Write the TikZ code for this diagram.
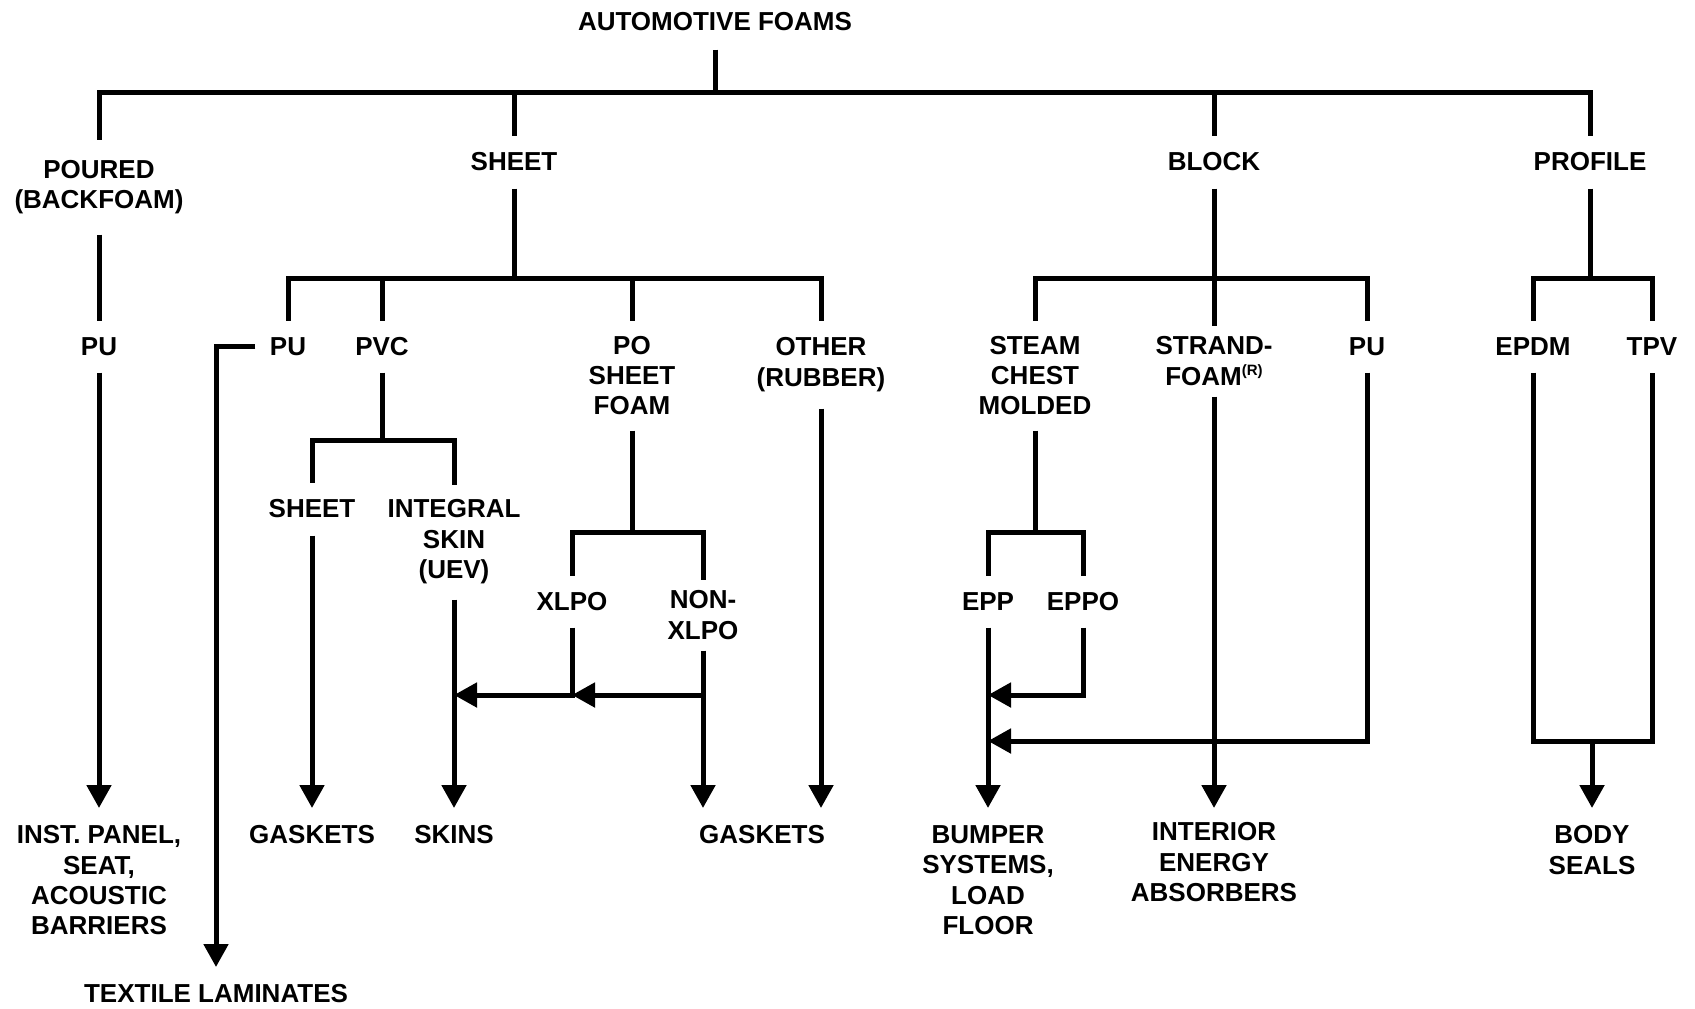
\documentclass[tikz,border=0pt]{standalone}
\usepackage{fontspec}
\setmainfont{Liberation Sans}
\usetikzlibrary{arrows.meta}
\begin{document}
\begin{tikzpicture}[x=0.5pt,y=-0.5pt,
  line width=2.5pt,
  every node/.style={font=\fontsize{13pt}{15.2pt}\selectfont\bfseries, align=center, inner ysep=0pt, inner xsep=6pt},
  lab/.style={minimum height=#1},
  bot/.style={anchor=north, inner ysep=7.5pt},
  arr/.style={-{Triangle[length=11.5pt,width=12pt]}}]
\useasboundingbox (0,0) rectangle (1695,1008);

% level coordinates
\coordinate (b0) at (0,92);
\coordinate (b1) at (0,278);
\coordinate (b2) at (0,440);
\coordinate (b3) at (0,532);
\coordinate (h1) at (0,695);
\coordinate (h2) at (0,741);

% nodes
\node (root) at (715,22) [lab=25pt] {AUTOMOTIVE FOAMS};
\node (poured) at (99,187) [lab=45pt] {POURED\\(BACKFOAM)};
\node (sheet) at (514,162) [lab=24pt] {SHEET};
\node (block) at (1214,162) [lab=24pt] {BLOCK};
\node (profile) at (1590,162) [lab=24pt] {PROFILE};

\node (pu1) at (99,346.5) [lab=23.5pt] {PU};
\node (pu2) at (288,346.5) [lab=23.5pt] {PU};
\node (pvc) at (382,346.5) [lab=23.5pt] {PVC};
\node (po) at (632,375.5) [lab=52.5pt] {PO\\SHEET\\FOAM};
\node (other) at (821,364.5) [lab=41.5pt] {OTHER\\(RUBBER)};
\node (steam) at (1035,375.5) [lab=52.5pt] {STEAM\\CHEST\\MOLDED};
\node (strand) at (1214,361) [lab=33pt] {STRAND-\\FOAM\raisebox{5pt}{\fontsize{7.5pt}{8pt}\selectfont(R)}};
\node (pu3) at (1367,346.5) [lab=23.5pt] {PU};
\node (epdm) at (1533,346.5) [lab=23.5pt] {EPDM};
\node (tpv) at (1652,346.5) [lab=23.5pt] {TPV};

\node (sheet2) at (312,509) [lab=24pt] {SHEET};
\node (integral) at (454,542) [lab=55pt] {INTEGRAL\\SKIN\\(UEV)};
\node (xlpo) at (572,601.5) [lab=23.5pt] {XLPO};
\node (nonxlpo) at (703,615) [lab=33pt] {NON-\\XLPO};
\node (epp) at (988,601.5) [lab=23.5pt] {EPP};
\node (eppo) at (1083,601.5) [lab=23.5pt] {EPPO};

\node (inst) at (99,808) [bot] {INST. PANEL,\\SEAT,\\ACOUSTIC\\BARRIERS};
\node (textile) at (216,967) [bot] {TEXTILE LAMINATES};
\node (gask1) at (312,808) [bot] {GASKETS};
\node (skins) at (454,808) [bot] {SKINS};
\node (gask2) at (762,808) [bot] {GASKETS};
\node (bumper) at (988,808) [bot] {BUMPER\\SYSTEMS,\\LOAD\\FLOOR};
\node (interior) at (1214,805) [bot] {INTERIOR\\ENERGY\\ABSORBERS};
\node (body) at (1592,808) [bot] {BODY\\SEALS};

% tree lines
\draw (root.south) -- (root.south |- b0);
\draw (poured.north) |- (profile.north |- b0) -- (profile.north);
\draw (sheet.north) -- (sheet.north |- b0);
\draw (block.north) -- (block.north |- b0);

\draw (sheet.south) -- (sheet.south |- b1);
\draw (pu2.north) |- (other.north |- b1) -- (other.north);
\draw (pvc.north) -- (pvc.north |- b1);
\draw (po.north) -- (po.north |- b1);
\draw (block.south) -- (strand.north);
\draw (steam.north) |- (pu3.north |- b1) -- (pu3.north);
\draw (profile.south) -- (profile.south |- b1);
\draw (epdm.north) |- (tpv.north |- b1) -- (tpv.north);

\draw (poured.south) -- (pu1.north);
\draw (pvc.south) -- (pvc.south |- b2);
\draw (sheet2.north) |- (integral.north |- b2) -- (integral.north);
\draw (po.south) -- (po.south |- b3);
\draw (xlpo.north) |- (nonxlpo.north |- b3) -- (nonxlpo.north);
\draw (steam.south) -- (steam.south |- b3);
\draw (epp.north) |- (eppo.north |- b3) -- (eppo.north);

% arrows
\draw[arr] (pu1.south) -- (inst.north);
\draw[arr] (pu2.west) -| (textile.north);
\draw[arr] (sheet2.south) -- (gask1.north);
\draw[arr] (integral.south) -- (skins.north);
\draw[arr] (nonxlpo.south) -- (nonxlpo.south |- gask2.north);
\draw[arr] (other.south) -- (other.south |- gask2.north);
\draw[arr] (nonxlpo.south |- h1) -- (xlpo.south |- h1);
\draw[arr] (xlpo.south) |- (integral.south |- h1);
\draw[arr] (epp.south) -- (bumper.north);
\draw[arr] (eppo.south) |- (epp.south |- h1);
\draw[arr] (pu3.south) |- (epp.south |- h2);
\draw[arr] (strand.south) -- (strand.south |- bumper.north);
\draw (epdm.south) |- (tpv.south |- h2) -- (tpv.south);
\draw[arr] (body.north |- h2) -- (body.north);
\end{tikzpicture}
\end{document}
